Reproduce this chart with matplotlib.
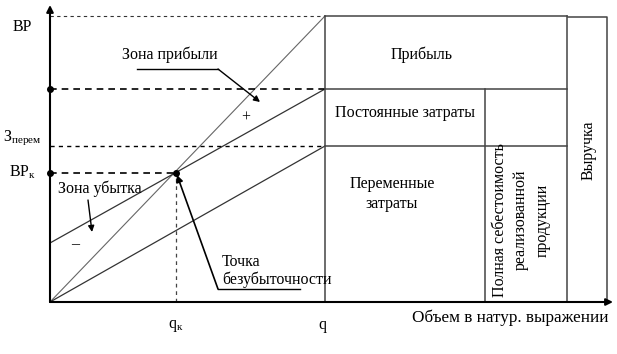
import matplotlib
matplotlib.use("Agg")
import matplotlib.pyplot as plt

# Data (diagram units: origin at axes origin, y upward)
q_total = 275          # full volume q
q_k = 126              # break-even volume
revenue_at_q = 286     # BP
total_cost_at_q = 213  # total cost at q
var_cost_at_q = 156    # З_перем
fixed_cost = 59        # fixed cost (total cost line intercept)
bp_k = 129             # BP_к

box_right = 517        # right edge of cost breakdown box
inner_col = 435        # inner vertical (full cost column)
rev_col_right = 557    # right edge of revenue column

plt.rcParams['font.family'] = ['Liberation Serif', 'DejaVu Serif']

fig = plt.figure(figsize=(6.17, 3.54), dpi=100)
ax = fig.add_axes([0, 0, 1, 1])
ax.set_xlim(-50, 567)
ax.set_ylim(-52, 302)
ax.axis('off')

lc = '#333333'
# Axes arrows
ax.annotate('', xy=(0, 297), xytext=(0, 0),
            arrowprops=dict(arrowstyle='-|>', lw=1.5, color='black', mutation_scale=10, shrinkA=0, shrinkB=0))
ax.annotate('', xy=(563, 0), xytext=(0, 0),
            arrowprops=dict(arrowstyle='-|>', lw=1.5, color='black', mutation_scale=10, shrinkA=0, shrinkB=0))

# Lines
ax.plot([0, q_total], [0, revenue_at_q], color='#666666', lw=0.8)
ax.plot([0, q_total], [fixed_cost, total_cost_at_q], color=lc, lw=0.9)
ax.plot([0, q_total], [0, var_cost_at_q], color=lc, lw=0.9)

# Dashed guide lines
ax.plot([0, q_total], [revenue_at_q, revenue_at_q], color=lc, lw=0.8, ls=(0, (3, 3)))
ax.plot([0, q_total], [total_cost_at_q, total_cost_at_q], color='black', lw=1.2, ls=(0, (4, 3)))
ax.plot([0, q_total], [var_cost_at_q, var_cost_at_q], color='black', lw=1.0, ls=(0, (3, 3)))
ax.plot([0, q_k], [bp_k, bp_k], color='black', lw=1.2, ls=(0, (4, 3)))
ax.plot([q_k, q_k], [0, bp_k], color='#444444', lw=0.9, ls=(0, (3, 3)))

# Points
ax.plot([0, 0, q_k], [total_cost_at_q, bp_k, bp_k], 'o', color='black', ms=4)

# Right box
box_kw = dict(color='#444444', lw=1.1)
ax.plot([q_total, q_total], [0, revenue_at_q], **box_kw)
ax.plot([q_total, box_right], [revenue_at_q, revenue_at_q], **box_kw)
ax.plot([box_right, box_right], [0, revenue_at_q], **box_kw)
ax.plot([q_total, box_right], [total_cost_at_q, total_cost_at_q], **box_kw)
ax.plot([q_total, box_right], [var_cost_at_q, var_cost_at_q], **box_kw)
ax.plot([inner_col, inner_col], [0, total_cost_at_q], **box_kw)
ax.plot([box_right + 1, rev_col_right, rev_col_right], [revenue_at_q - 1, revenue_at_q - 1, 0], **box_kw)

fs = 11.5
# Axis labels
ax.text(-28, 275, 'ВР', fontsize=fs, ha='center', va='center')
ax.text(-28, 164, r'З$_{\mathregular{перем}}$', fontsize=fs, ha='center', va='center')
ax.text(-27, 130, r'ВР$_{\mathregular{к}}$', fontsize=fs, ha='center', va='center')
ax.text(q_k, -24, r'q$_{\mathregular{к}}$', fontsize=fs, ha='center', va='center')
ax.text(q_total - 3, -23, 'q', fontsize=fs, ha='center', va='center')
ax.text(460, -16, 'Объем в натур. выражении', fontsize=12.3, ha='center', va='center')

# Box labels
ax.text(372, 247, 'Прибыль', fontsize=fs, ha='center', va='center')
ax.text(355, 189, 'Постоянные затраты', fontsize=fs, ha='center', va='center')
ax.text(342, 108, 'Переменные\nзатраты', fontsize=fs, ha='center', va='center', linespacing=1.3)
ax.text(471, 82, 'Полная себестоимость\nреализованной\nпродукции', fontsize=fs,
        ha='center', va='center', rotation=90, linespacing=1.45)
ax.text(539, 152, 'Выручка', fontsize=fs, ha='center', va='center', rotation=90)

# Zones
ax.text(120, 247, 'Зона прибыли', fontsize=fs, ha='center', va='center')
ax.plot([87, 168], [233, 233], color='black', lw=1.0)
ax.annotate('', xy=(210, 200), xytext=(168, 233),
            arrowprops=dict(arrowstyle='-|>', lw=1.0, color='black', mutation_scale=9, shrinkA=0, shrinkB=0))
ax.text(196, 184, '+', fontsize=fs, ha='center', va='center')

ax.text(50, 113, 'Зона убытка', fontsize=fs, ha='center', va='center')
ax.annotate('', xy=(42, 70), xytext=(38, 102),
            arrowprops=dict(arrowstyle='-|>', lw=1.0, color='black', mutation_scale=9, shrinkA=0, shrinkB=0))
ax.text(25, 58, '–', fontsize=fs, ha='center', va='center')

# Break-even point
ax.text(172, 40, 'Точка', fontsize=fs, ha='left', va='center')
ax.text(172, 22, 'безубыточности', fontsize=fs, ha='left', va='center')
ax.plot([168, 250], [13, 13], color='black', lw=1.0)
ax.annotate('', xy=(q_k + 1, bp_k - 2), xytext=(168, 13),
            arrowprops=dict(arrowstyle='-|>', lw=1.2, color='black', mutation_scale=10, shrinkA=0, shrinkB=0))

fig.savefig('out.png', dpi=100)
